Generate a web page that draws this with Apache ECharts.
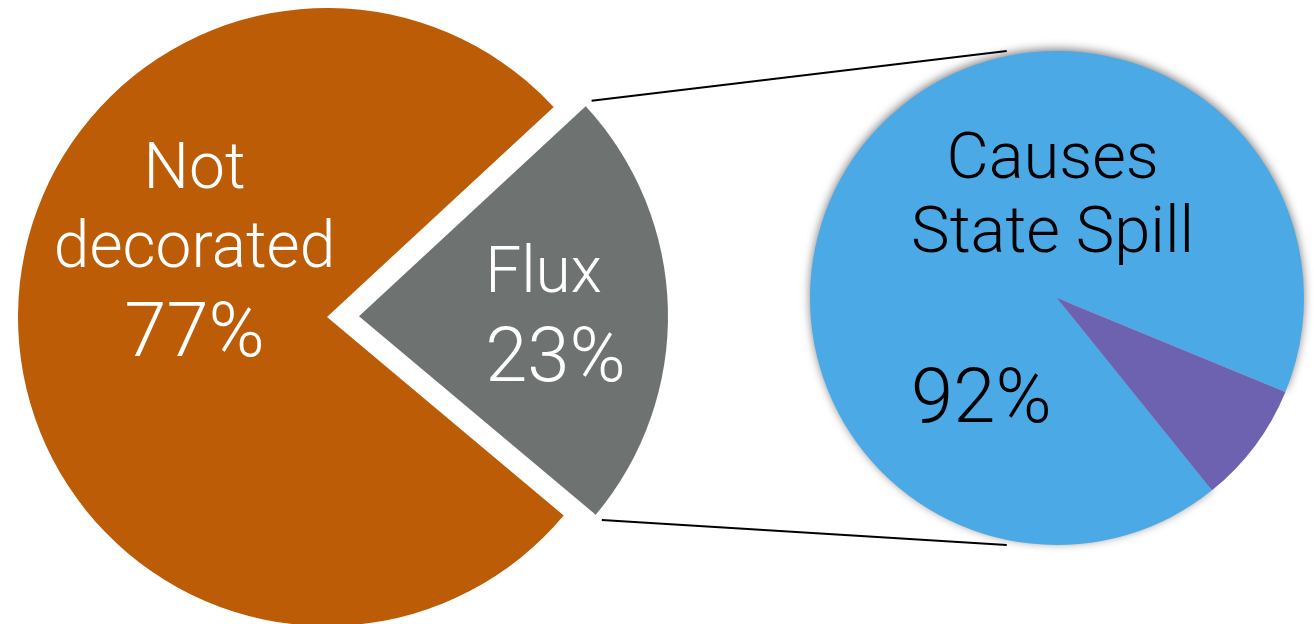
<!DOCTYPE html>
<html>
<head>
<meta charset="utf-8">
<script src="https://cdn.jsdelivr.net/npm/echarts@6/dist/echarts.min.js"></script>
<style>
  html, body { margin: 0; padding: 0; background: #fff; }
  #chart { width: 1314px; height: 624px; }
</style>
</head>
<body>
<div id="chart"></div>
<script>
// left pie: decoration breakdown
var mainNames = ['Flux', 'Not\ndecorated']
var mainValues = [23, 77]
var mainColors = ['#6e7371', '#bc5c06']

// right pie: breakdown of the Flux slice
var subNames = ['Causes\nState Spill', '']
var subValues = [92, 8]
var subColors = ['#4ba9e6', '#6c62b0']

// layout
var leftCenter = [327, 317]
var leftRadius = 309
var fluxStart = 42.8
var explode = 32
var rightCenter = [1057, 298]
var rightRadius = 247
var rightStart = -51.15

var font = 'Roboto, "Helvetica Neue", Arial, sans-serif'

var chart = echarts.init(document.getElementById('chart'), null, { renderer: 'canvas' })

function rad(deg) { return deg * Math.PI / 180 }

// connector lines from the exploded slice to the second pie
function connectors() {
  var total = mainValues.reduce(function (a, b) { return a + b }, 0)
  var sweep = mainValues[0] / total * 360
  var a0 = fluxStart
  var a1 = fluxStart - sweep
  var mid = (a0 + a1) / 2
  var cx = leftCenter[0] + explode * Math.cos(rad(mid))
  var cy = leftCenter[1] - explode * Math.sin(rad(mid))
  var r = leftRadius + 8
  var r2 = rightRadius + 5
  var top = {
    x1: cx + r * Math.cos(rad(a0)), y1: cy - r * Math.sin(rad(a0)),
    x2: rightCenter[0] + r2 * Math.cos(rad(101.5)), y2: rightCenter[1] - r2 * Math.sin(rad(101.5))
  }
  var bottom = {
    x1: cx + r * Math.cos(rad(a1)), y1: cy - r * Math.sin(rad(a1)),
    x2: rightCenter[0] + r2 * Math.cos(rad(-101.5)), y2: rightCenter[1] - r2 * Math.sin(rad(-101.5))
  }
  return [top, bottom].map(function (s) {
    return { type: 'line', shape: s, style: { stroke: '#000', lineWidth: 2 }, silent: true, z: 10 }
  })
}

var option = {
  animation: false,
  backgroundColor: '#fff',
  graphic: connectors(),
  series: [
    {
      type: 'pie',
      center: leftCenter,
      radius: [0, leftRadius],
      startAngle: fluxStart,
      clockwise: true,
      selectedMode: 'single',
      selectedOffset: explode,
      silent: true,
      labelLine: { show: false },
      select: { itemStyle: { color: mainColors[0] } },
      // the selected slice ignores label.offset, so nudge it here
      labelLayout: function (p) {
        if (p.dataIndex === 0) return { dx: 39, dy: 10 }
      },
      data: mainValues.map(function (v, i) {
        var isFlux = i === 0
        return {
          name: mainNames[i],
          value: v,
          selected: isFlux,
          itemStyle: { color: mainColors[i] },
          label: {
            show: true,
            position: 'inside',
            offset: isFlux ? [0, 0] : [25, -63],
            formatter: function (p) { return '{n|' + p.name + '}\n{p|' + p.value + '%}' },
            rich: {
              n: { fontFamily: font, fontWeight: 300, fontSize: 64, lineHeight: 79, color: '#fff', align: isFlux ? 'left' : 'center' },
              p: { fontFamily: font, fontWeight: 300, fontSize: 76, lineHeight: 93, color: '#fff', align: isFlux ? 'left' : 'center' }
            }
          }
        }
      })
    },
    {
      type: 'pie',
      center: rightCenter,
      radius: [0, rightRadius],
      startAngle: rightStart,
      clockwise: true,
      silent: true,
      labelLine: { show: false },
      data: subValues.map(function (v, i) {
        var isMain = i === 0
        return {
          name: subNames[i],
          value: v,
          itemStyle: isMain
            ? { color: subColors[i], shadowBlur: 10, shadowColor: 'rgba(0,0,0,0.5)', shadowOffsetY: -2 }
            : { color: subColors[i] },
          label: isMain ? {
            show: true,
            position: 'inside',
            offset: [97, 107],
            formatter: function (p) { return '{n|' + p.name + '}\n{p|' + p.value + '%}' },
            rich: {
              n: { fontFamily: font, fontWeight: 300, fontSize: 65, lineHeight: 74, color: '#000', align: 'center' },
              p: { fontFamily: font, fontWeight: 300, fontSize: 76, lineHeight: 262, color: '#000', align: 'left' }
            }
          } : { show: false }
        }
      })
    }
  ]
}

chart.setOption(option)
</script>
</body>
</html>
